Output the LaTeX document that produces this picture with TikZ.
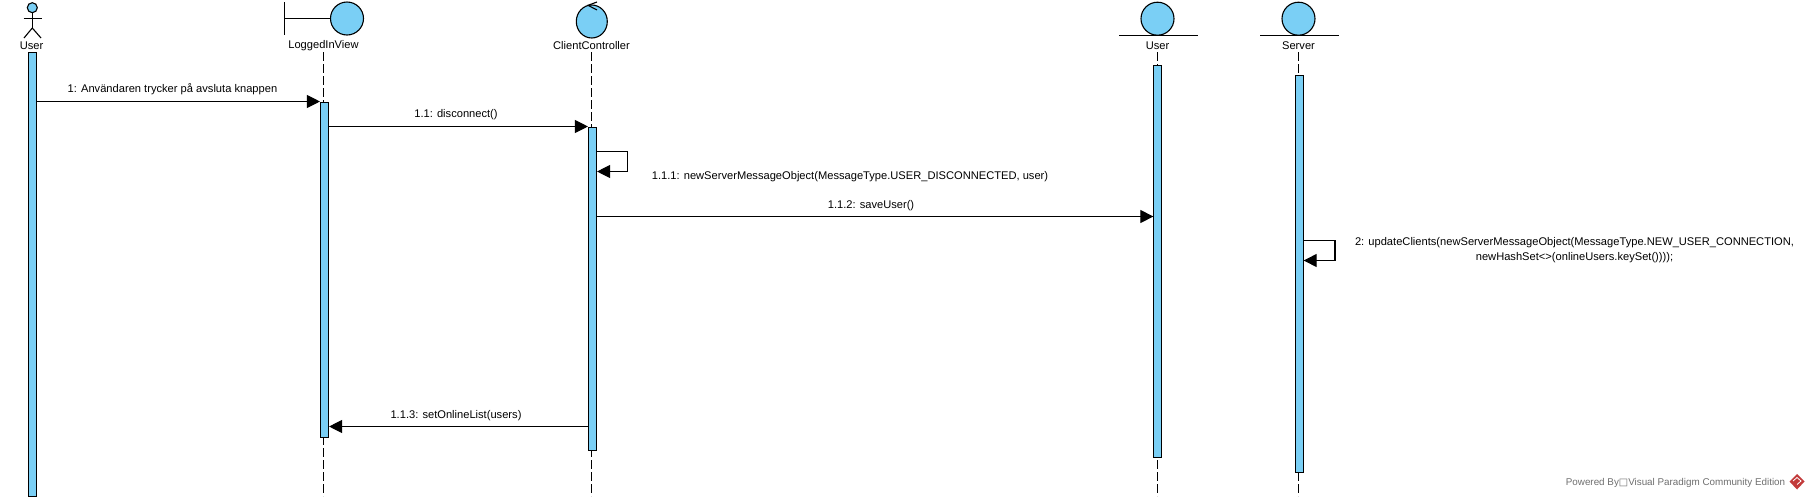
\documentclass[tikz,border=0pt]{standalone}
\usepackage{fontspec}
\setmainfont{Liberation Sans}
\newfontfamily\symfont{DejaVu Sans}
\usetikzlibrary{arrows.meta,shapes.geometric,calc}
\definecolor{umlblue}{HTML}{7ACFF5}
\definecolor{vpred}{HTML}{C23A3A}
\definecolor{vpgrey}{HTML}{6E6E6E}
\tikzset{
  x=1pt,y=-1pt,
  every node/.style={font=\fontsize{11.13}{15}\selectfont,text=black,inner sep=0pt},
  head/.style={ellipse,draw=black,fill=umlblue,line width=1.1pt,minimum width=#1,minimum height=33},
  shape line/.style={draw=black,line width=1.1pt},
  lifeline/.style={draw=black,line width=1pt,dash pattern=on 9pt off 3pt},
  activation/.style={rectangle,draw=black,fill=umlblue,line width=1.1pt,minimum width=8,anchor=north},
  message/.style={draw=black,line width=1.1pt,-{Triangle[length=13pt,width=13pt]}},
}
\begin{document}
\begin{tikzpicture}
\useasboundingbox (0,0) rectangle (1809,499);
% levels
\coordinate (top) at (0,52);
\coordinate (bot) at (0,496);
\coordinate (y1) at (0,101.5);
\coordinate (y2) at (0,126.5);
\coordinate (y3a) at (0,151.5);
\coordinate (y3b) at (0,171.5);
\coordinate (y4) at (0,216.5);
\coordinate (y5a) at (0,240.5);
\coordinate (y5b) at (0,260.5);
\coordinate (y6) at (0,426.5);
\coordinate (self1) at (627.5,0);
\coordinate (self2) at (1335,0);
% labels
\node (lblA) at (31.5,46) {User};
\node (lblB) at (323.5,46) {LoggedInView};
\node (lblC) at (591.5,46) {ClientController};
\node (lblD) at (1157.5,46) {User};
\node (lblE) at (1298.5,46) {Server};
% lifelines
\draw[lifeline] (lblB.south |- top) -- (lblB.south |- bot);
\draw[lifeline] (lblC.south |- top) -- (lblC.south |- bot);
\draw[lifeline] (lblD.south |- top) -- (lblD.south |- bot);
\draw[lifeline] (lblE.south |- top) -- (lblE.south |- bot);
% actor
\node[circle,draw=black,fill=umlblue,line width=1.1pt,minimum size=10] (actorhead) at (32.3,7.7) {};
\coordinate (hip) at (32.3,28);
\draw[shape line] (actorhead.south) -- (hip);
\draw[shape line] (23.5,18.3) -- (41.5,18.3);
\draw[shape line] (24,38) -- (hip) -- (41,38);
% boundary
\node[head=33] (bhead) at (347,18.5) {};
\draw[shape line] (284.5,2) -- (284.5,35);
\draw[shape line] (284.5,18.5) -- (bhead.west);
% control
\node[head=31] (chead) at (591.8,21.5) {};
\draw[shape line] (597,2) -- (588,5.3) -- (597,10);
% entities
\node[head=33] (dhead) at (1157.5,18.7) {};
\draw[shape line] (1119,35.2) -- (1197.7,35.2);
\node[head=33] (ehead) at (1298.5,18.7) {};
\draw[shape line] (1260,35.2) -- (1339,35.2);
% activations
\node[activation,minimum height=443.5] (a1) at (32.5,52) {};
\node[activation,minimum height=335.5] (a2) at (324.5,101.5) {};
\node[activation,minimum height=323] (a3) at (592.5,126.5) {};
\node[activation,minimum height=392] (a4) at (1157.9,65) {};
\node[activation,minimum height=397] (a5) at (1299.1,75) {};
% messages
\draw[message] (a1.east |- y1) -- (a2.west |- y1);
\draw[message] (a2.east |- y2) -- (a3.west |- y2);
\draw[message] (a3.east |- y3a) -- (self1 |- y3a) -- (self1 |- y3b) -- (a3.east |- y3b);
\draw[message] (a3.east |- y4) -- (a4.west |- y4);
\draw[message] (a5.east |- y5a) -- (self2 |- y5a) -- (self2 |- y5b) -- (a5.east |- y5b);
\draw[message] (a3.west |- y6) -- (a2.east |- y6);
% message labels
\node (m1) at (172.5,89) {1: Användaren trycker på avsluta knappen};
\node (m2) at (456,115) {1.1: disconnect()};
\node (m3) at (850,177) {1.1.1: newServerMessageObject(MessageType.USER\_DISCONNECTED, user)};
\node (m4) at (871,205.5) {1.1.2: saveUser()};
\node[align=center] (m5) at (1574.5,250) {2: updateClients(newServerMessageObject(MessageType.NEW\_USER\_CONNECTION,\\newHashSet<>(onlineUsers.keySet())));};
\node (m6) at (456,415.5) {1.1.3: setOnlineList(users)};
% watermark
\node[font=\fontsize{9.85}{11}\selectfont,text=vpgrey] (wm) at (1675.5,483) {Powered By{\symfont □}Visual Paradigm Community Edition};
\fill[vpred] (1797,474) -- (1804.5,481.5) -- (1797,489.5) -- (1789.5,481.5) -- cycle;
\draw[white,line width=0.8pt] (1793,481) -- (1797,477.5) -- (1801,481) -- (1797,484.5);
\end{tikzpicture}
\end{document}
